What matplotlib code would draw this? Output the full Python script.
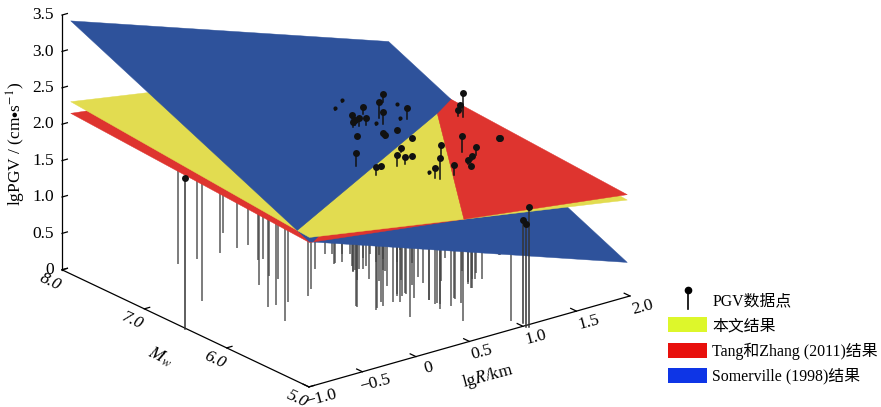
import matplotlib
matplotlib.use('Agg')
import matplotlib.pyplot as plt
from matplotlib.legend_handler import HandlerBase
from matplotlib.lines import Line2D
from matplotlib.patches import Patch
from mpl_toolkits.mplot3d import proj3d
from mpl_toolkits.mplot3d.art3d import Poly3DCollection

plt.rcParams['font.family'] = ['Liberation Serif', 'Noto Sans CJK SC']
plt.rcParams['mathtext.fontset'] = 'stix'

# plane extents and heights at the corners (R, Mw): front-left, front-right, back-right, back-left
plane_R = [-1.0, 1.97, 1.97, -1.0]
plane_M = [5.0, 5.0, 7.9, 7.9]
blue_z = [2.00, 0.48, 1.96, 3.47]
yellow_z = [2.06, 1.337, 1.647, 2.37]
red_z = [1.99, 1.411, 1.631, 2.21]

# points lying under the planes, only the lower part of the stems shows
under_R = [-0.24, -0.07, -0.55, 0.15, 0.41, 0.30, 0.41, -0.02, 0.28, 0.32, -0.24, 0.15, -0.17, 0.16, -0.32, -0.06,
           0.13, 0.23, 0.50, 0.74, 0.79, 0.67, 0.75, 0.89, 0.70, 0.28, 0.78, 0.69, 1.01, 0.39, 0.73, 0.45, 0.71,
           0.55, 0.67, 0.59, 0.68, 0.72, 0.47, 0.73, 1.00, 0.97, 0.78, 0.80, 0.74, 1.40, 0.84, 0.95, 0.94, 0.72,
           1.23, 1.19, 1.31, 1.36, 1.01]
under_M = [7.58, 7.57, 6.88, 7.57, 7.88, 7.57, 7.57, 6.88, 7.28, 7.27, 6.48, 6.98, 6.48, 6.88, 6.18, 6.48,
           6.48, 6.57, 6.88, 7.07, 7.05, 6.87, 6.87, 6.96, 6.68, 6.08, 6.66, 6.47, 6.87, 5.98, 6.40, 5.98, 6.28,
           5.99, 6.10, 5.96, 6.05, 6.06, 5.68, 5.97, 6.28, 6.17, 5.86, 5.79, 5.67, 6.47, 5.67, 5.76, 5.68, 5.37,
           5.97, 5.87, 5.99, 5.97, 5.16]
under_Z = [1.42, 1.21, 1.74, 0.94, 0.65, 0.76, 0.64, 1.10, 0.76, 0.72, 1.33, 0.90, 1.25, 0.88, 1.41, 1.12,
           0.91, 0.81, 0.53, 0.32, 0.30, 0.45, 0.40, 0.30, 0.52, 1.01, 0.49, 0.62, 0.28, 1.00, 0.64, 0.98, 0.70,
           0.92, 0.80, 0.91, 0.82, 0.80, 1.10, 0.83, 0.56, 0.62, 0.86, 0.88, 0.97, 0.26, 0.91, 0.82, 0.86, 1.12,
           0.58, 0.64, 0.53, 0.51, 1.07]

# points above the planes
above_R = [1.26, 1.05, 0.92, 1.02, 1.31, 0.76, 0.73, 0.69, 0.76, 0.83, 0.89, 0.89, 1.07,
           0.61, 0.29, 1.14, 0.87, 0.65, 0.74, 0.87, 0.36, 0.48, 0.78, 0.80, 1.10, 1.34, 0.96, 1.40, 1.30, 1.22,
           1.18, 1.75, 1.76, 1.82, 1.90, 1.79]
above_M = [7.04, 6.81, 6.84, 6.73, 6.81, 6.76, 6.69, 6.66, 6.68, 6.69, 6.53, 6.56, 6.62,
           6.51, 6.10, 6.53, 6.31, 6.07, 6.09, 6.18, 5.95, 6.05, 5.78, 5.75, 6.12, 6.18, 5.79, 6.09, 6.01, 5.95,
           5.87, 6.27, 6.27, 6.79, 6.94, 6.82]
above_Z = [1.99, 2.09, 2.06, 2.01, 1.90, 2.06, 2.04, 2.05, 2.06, 2.03, 1.85, 1.86, 1.80,
           1.97, 2.09, 1.71, 1.80, 1.92, 1.85, 1.76, 1.94, 1.85, 1.85, 1.99, 1.85, 1.84, 1.81, 1.71, 1.67, 1.68,
           1.66, 1.59, 1.59, 1.91, 1.63, 1.67]

# points barely out of the planes, the markers are half buried
buried_R = [0.85, 0.69, 1.36, 1.23, 0.94, 0.78]
buried_M = [7.00, 6.88, 7.00, 6.79, 6.71, 5.86]
buried_Z = [2.10, 2.12, 1.83, 1.81, 1.90, 1.75]

# points in front of the planes, whole stem visible
front_R = [1.03, 1.04, 1.01, -1.01]
front_M = [4.96, 5.05, 4.98, 6.49]
front_Z = [1.65, 1.41, 1.41, 2.07]

R_ticks = [-1.0, -0.5, 0, 0.5, 1.0, 1.5, 2.0]
R_labels = ['\u22121.0', '\u22120.5', '0', '0.5', '1.0', '1.5', '2.0']
M_ticks = [8.0, 7.0, 6.0, 5.0]
M_labels = ['8.0', '7.0', '6.0', '5.0']
Z_ticks = [0, 0.5, 1.0, 1.5, 2.0, 2.5, 3.0, 3.5]
Z_labels = ['0', '0.5', '1.0', '1.5', '2.0', '2.5', '3.0', '3.5']

legend_labels = ['PGV数据点', '本文结果', 'Tang和Zhang (2011)结果', 'Somerville (1998)结果']
plane_colors = ['#e2dc50', '#de342f', '#2e529b']
legend_colors = ['#ddf72b', '#e8100c', '#0e35e6']


def plane(corners):
    # plane through the first three corners, as a function of R and Mw
    sr = (corners[1] - corners[0]) / (plane_R[1] - plane_R[0])
    sm = (corners[2] - corners[1]) / (plane_M[2] - plane_M[1])
    return lambda r, m: corners[0] + sr * (r - plane_R[0]) + sm * (m - plane_M[0])


def clip(poly, f):
    # keep the part of the polygon where f >= 0
    out = []
    for (r0, m0), (r1, m1) in zip(poly, poly[1:] + poly[:1]):
        f0, f1 = f(r0, m0), f(r1, m1)
        if f0 >= 0:
            out.append((r0, m0))
        if f0 * f1 < 0:
            t = f0 / (f0 - f1)
            out.append((r0 + t * (r1 - r0), m0 + t * (m1 - m0)))
    return out


def label(r, m, z, s, **kw):
    # Text3D forces its own rotation, so project by hand and use a plain text
    x, y, _ = proj3d.proj_transform(r, m, z, ax.get_proj())
    ax.text2D(x, y, s, transform=ax.transData, **kw)


class StemHandler(HandlerBase):
    def create_artists(self, legend, orig_handle, xd, yd, width, height, fontsize, trans):
        x, mid = width / 2 - xd, height / 2 - yd
        stem = Line2D([x, x], [mid - 6.5, mid + 7], color='black', lw=1.2, transform=trans)
        dot = Line2D([x], [mid + 7], marker='o', ms=4.5, color='black', transform=trans)
        return [stem, dot]


fig = plt.figure(figsize=(8.81, 4.07), dpi=100)
ax = fig.add_axes([-0.326, -0.9226, 1.4, 3.0], projection='3d', proj_type='ortho', computed_zorder=False)
ax.set_xlim(-1, 2)
ax.set_ylim(5, 8)
ax.set_zlim(0, 3.5)
ax.set_box_aspect((406, 404, 274), zoom=0.5045)
ax.view_init(elev=21.5, azim=232.3)
ax.set_axis_off()

funcs = [plane(yellow_z), plane(red_z), plane(blue_z)]
outline = list(zip(plane_R, plane_M))

# cut every plane where it crosses the others, stack the pieces by height
for i, f in enumerate(funcs):
    others = [g for j, g in enumerate(funcs) if j != i]
    for a in (1, -1):
        for b in (1, -1):
            poly = clip(outline, lambda r, m: a * (f(r, m) - others[0](r, m)))
            poly = clip(poly, lambda r, m: b * (f(r, m) - others[1](r, m)))
            if len(poly) < 3:
                continue
            rank = (a > 0) + (b > 0)
            verts = [[(r, m, f(r, m)) for r, m in poly]]
            coll = Poly3DCollection(verts, facecolor=plane_colors[i], edgecolor=plane_colors[i], linewidth=0.3)
            coll.set_zorder(3 + rank)
            ax.add_collection3d(coll)

for r, m, z in zip(under_R, under_M, under_Z):
    ax.plot([r, r], [m, m], [0, z], color='#444444', lw=1.4, alpha=0.7, zorder=2)

for r, m, z in zip(above_R + buried_R, above_M + buried_M, above_Z + buried_Z):
    top = max(g(r, m) for g in funcs)
    ax.plot([r, r], [m, m], [0, top], color='#444444', lw=1.4, alpha=0.7, zorder=2)
    ax.plot([r, r], [m, m], [top, z], color='#111111', lw=1.1, zorder=8)
ax.plot(above_R, above_M, above_Z, ls='none', marker='o', ms=5, color='#111111', mew=0, zorder=9)
ax.plot(buried_R, buried_M, buried_Z, ls='none', marker='o', ms=3, color='#111111', mew=0, zorder=9)

for r, m, z in zip(front_R, front_M, front_Z):
    ax.plot([r, r], [m, m], [0, z], color='#333333', lw=1.1, zorder=8)
ax.plot(front_R, front_M, front_Z, ls='none', marker='o', ms=5, color='#111111', mew=0, zorder=9)

# axes drawn by hand so the labels can follow the box edges
axis_kw = dict(color='black', lw=0.9, zorder=1)
ax.plot([-1, -1], [8, 8], [0, 3.5], **axis_kw)
ax.plot([-1, -1], [8, 5], [0, 0], **axis_kw)
ax.plot([-1, 2], [5, 5], [0, 0], **axis_kw)

for t, s in zip(Z_ticks, Z_labels):
    ax.plot([-1, -0.95], [8, 8], [t, t], **axis_kw)
    label(-1.075, 8, t + 0.03, s, ha='right', va='center', fontsize=12.5)
for t, s in zip(M_ticks, M_labels):
    ax.plot([-1, -0.95], [t, t], [0, 0], **axis_kw)
    label(-1.11, t, -0.115, s, ha='center', va='center', fontsize=12.5, style='italic', rotation=-25,
          rotation_mode='anchor')
for t, s in zip(R_ticks, R_labels):
    ax.plot([t, t], [5, 5.07], [0, 0], **axis_kw)
    label(t + 0.015, 4.866, -0.09, s, ha='center', va='center', fontsize=12.5, rotation=15, rotation_mode='anchor')

label(-1, 6.81, -0.557, r'$M_{w}$', ha='center', va='center', fontsize=13, rotation=-25, rotation_mode='anchor')
label(0.673, 5, -0.559, r'lg$R$/km', ha='center', va='center', fontsize=12.5, rotation=15, rotation_mode='anchor')
fig.text(16 / 881, 1 - 144 / 407, r'lgPGV / (cm$\bullet$s$^{-1}$)', rotation=90, ha='center', va='center', fontsize=12.5)

handles = [Line2D([], [])] + [Patch(facecolor=c, edgecolor='none') for c in legend_colors]
fig.legend(handles, legend_labels, handler_map={handles[0]: StemHandler()}, frameon=False, fontsize=11.4,
           loc='upper left', bbox_to_anchor=(668 / 881, 1 - 292.5 / 407), borderpad=0, borderaxespad=0,
           handlelength=2.47, handleheight=1.05, handletextpad=0.32, labelspacing=0.52)

fig.savefig('out.png', dpi=100)
